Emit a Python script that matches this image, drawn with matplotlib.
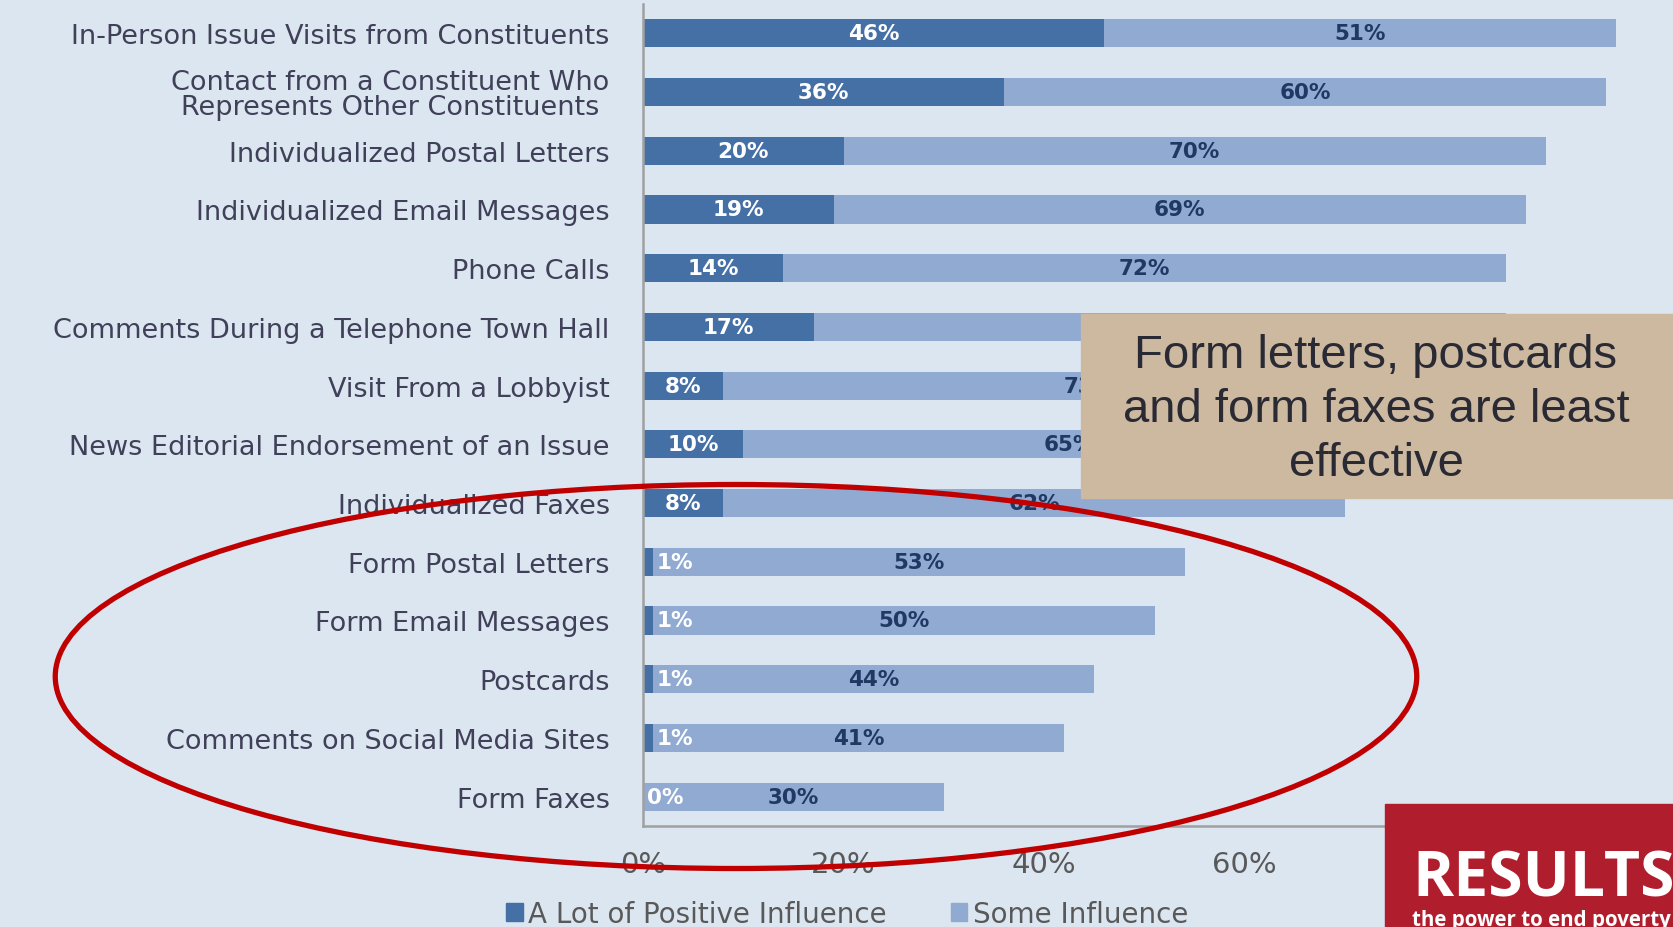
import matplotlib
matplotlib.use('Agg')
import matplotlib.pyplot as plt
from matplotlib.patches import Rectangle, Ellipse, Patch
import numpy as np

# Data
categories = [
    "In-Person Issue Visits from Constituents",
    "Contact from a Constituent Who\nRepresents Other Constituents",
    "Individualized Postal Letters",
    "Individualized Email Messages",
    "Phone Calls",
    "Comments During a Telephone Town Hall",
    "Visit From a Lobbyist",
    "News Editorial Endorsement of an Issue",
    "Individualized Faxes",
    "Form Postal Letters",
    "Form Email Messages",
    "Postcards",
    "Comments on Social Media Sites",
    "Form Faxes",
]
a_lot = [46, 36, 20, 19, 14, 17, 8, 10, 8, 1, 1, 1, 1, 0]
some = [51, 60, 70, 69, 72, 69, 73, 65, 62, 53, 50, 44, 41, 30]
xticks = [0, 20, 40, 60]   # 80% / 100% sit under the logo
legend_labels = ["A Lot of Positive Influence", "Some Influence"]
callout = "Form letters, postcards\nand form faxes are least\neffective"

# Colours
bg = "#dce6f1"
c_dark = "#4570a6"
c_light = "#91aad2"
c_grey = "#595959"
c_label = "#404058"

W, H = 1673, 928
fig = plt.figure(figsize=(W / 100, H / 100), dpi=100, facecolor=bg)
ax = fig.add_axes([643 / W, 1 - 827 / H, (1646 - 643) / W, (827 - 5) / H])
ax.set_facecolor(bg)

y = np.arange(len(categories))
ax.barh(y, a_lot, height=0.48, color=c_dark, zorder=2)
ax.barh(y, some, left=a_lot, height=0.48, color=c_light, zorder=2)

# value labels
for i in range(len(categories)):
    if a_lot[i] >= 3:
        ax.text(a_lot[i] / 2, i, "%d%%" % a_lot[i], ha="center", va="center",
                color="white", fontsize=15.5, fontweight="bold", zorder=3)
    else:
        ax.text(a_lot[i] + 0.4, i, "%d%%" % a_lot[i], ha="left", va="center",
                color="white", fontsize=15.5, fontweight="bold", zorder=3)
    ax.text(a_lot[i] + some[i] / 2, i, "%d%%" % some[i], ha="center", va="center",
            color="#1f3864", fontsize=15.5, fontweight="bold", zorder=3)

ax.set_ylim(len(categories) - 0.5, -0.5)
ax.set_xlim(0, 100)
ax.set_yticks(y)
ax.set_yticklabels(categories, multialignment="center", linespacing=0.95)
ax.set_xticks(xticks)
ax.set_xticklabels(["%d%%" % v for v in xticks])
ax.tick_params(axis="y", length=0, pad=24, labelsize=19.5, labelcolor=c_label)
ax.tick_params(axis="x", length=0, pad=17, labelsize=21, labelcolor=c_grey)

for s in ("top", "right"):
    ax.spines[s].set_visible(False)
for s in ("left", "bottom"):
    ax.spines[s].set_color("#a0a0a0")
    ax.spines[s].set_linewidth(1.8)

# legend
handles = [Patch(color=c_dark), Patch(color=c_light)]
fig.legend(handles, legend_labels, loc="center left",
           bbox_to_anchor=(481 / W, 1 - 915 / H), ncol=2, frameon=False,
           fontsize=20, handlelength=0.6, handleheight=0.6, handletextpad=0.2,
           columnspacing=2.3, labelcolor=c_grey)

# callout box
fig.add_artist(Rectangle((1081 / W, 1 - 499 / H), (W - 1081) / W, (499 - 315) / H,
                         transform=fig.transFigure, color="#cdb9a0", zorder=5))
fig.text(1376 / W, 1 - 410 / H, callout, ha="center", va="center",
         fontsize=34, family="Liberation Sans", color="#2a2a35",
         linespacing=1.3, zorder=6)

# red ellipse
fig.add_artist(Ellipse((736 / W, 1 - 677.5 / H), 1361.5 / W, 384 / H,
                       transform=fig.transFigure, fill=False,
                       edgecolor="#c00000", linewidth=3.8, zorder=7))

# RESULTS logo
fig.add_artist(Rectangle((1385 / W, 0), (W - 1385) / W, (H - 805) / H,
                         transform=fig.transFigure, color="#b01e2d", zorder=8))
fig.text(1412 / W, 1 - 897 / H, "RESULTS", ha="left", va="baseline",
         fontsize=45, fontweight="bold", family="Open Sans", color="white", zorder=9)
fig.text(1412 / W, 1 - 926 / H, "the power to end poverty", ha="left", va="baseline",
         fontsize=14.8, fontweight="bold", family="Open Sans", color="white", zorder=9)

fig.savefig("out.png", dpi=100, facecolor=bg)
